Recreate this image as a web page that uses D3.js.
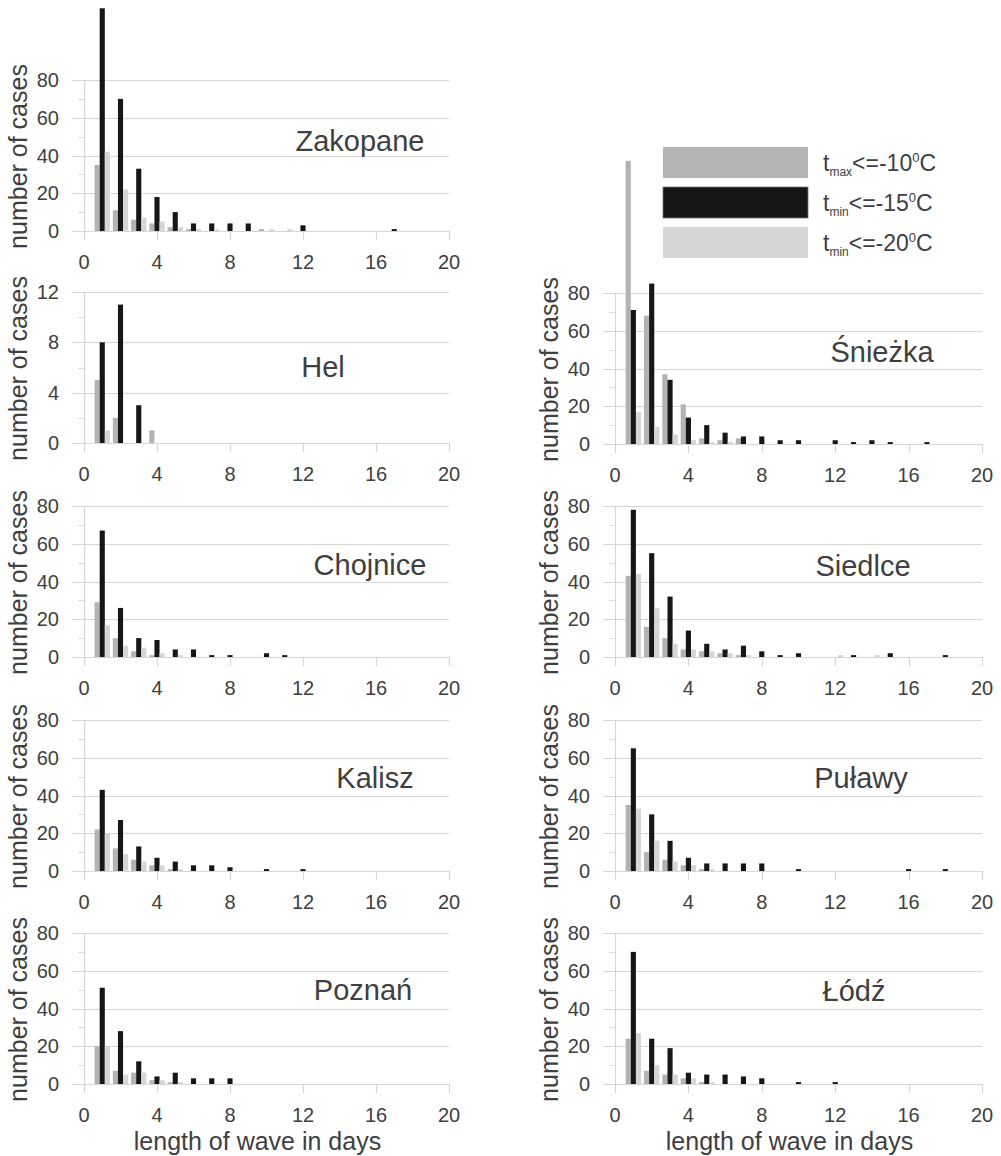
<!DOCTYPE html>
<html><head><meta charset="utf-8">
<script src="https://cdn.jsdelivr.net/npm/d3@7/dist/d3.min.js"></script>
<style>body{margin:0;background:#fff}text{font-family:"Liberation Sans",Arial,sans-serif;fill:#404040}</style>
</head><body><svg id="c" width="1001" height="1156"></svg>
<script>
// ---------- data ----------
const days = [1,2,3,4,5,6,7,8,9,10,11,12,13,14,15,16,17,18,19,20];
const seriesLabels = [["t","max","<=-10","0","C"],["t","min","<=-15","0","C"],["t","min","<=-20","0","C"]];
const xTicks = [0,4,8,12,16,20];
const yTicksCases = [0,20,40,60,80];
const yTicksHel = [0,4,8,12];
const yTitle = "number of cases";
const xTitle = "length of wave in days";

const zakopaneTmax10 = [35,11,6,4,2,1,0,0,0,1,0,0,0,0,0,0,0,0,0,0];
const zakopaneTmin15 = [118,70,33,18,10,4,4,4,4,0,0,3,0,0,0,0,1,0,0,0];
const zakopaneTmin20 = [42,22,7,5,2,1,1,0,0,1,1,0,0,0,0,0,0,0,0,0];

const helTmax10 = [5,2,0,1,0,0,0,0,0,0,0,0,0,0,0,0,0,0,0,0];
const helTmin15 = [8,11,3,0,0,0,0,0,0,0,0,0,0,0,0,0,0,0,0,0];
const helTmin20 = [1,0,0,0,0,0,0,0,0,0,0,0,0,0,0,0,0,0,0,0];

const chojniceTmax10 = [29,10,3,1,0,0,0,0,0,0,0,0,0,0,0,0,0,0,0,0];
const chojniceTmin15 = [67,26,10,9,4,4,1,1,0,2,1,0,0,0,0,0,0,0,0,0];
const chojniceTmin20 = [17,6,5,2,1,0,0,0,0,0,0,0,0,0,0,0,0,0,0,0];

const kaliszTmax10 = [22,12,6,3,1,0,0,0,0,0,0,0,0,0,0,0,0,0,0,0];
const kaliszTmin15 = [43,27,13,7,5,3,3,2,0,1,0,1,0,0,0,0,0,0,0,0];
const kaliszTmin20 = [20,9,5,3,1,0,0,0,0,0,0,0,0,0,0,0,0,0,0,0];

const poznanTmax10 = [20,7,6,2,1,0,0,0,0,0,0,0,0,0,0,0,0,0,0,0];
const poznanTmin15 = [51,28,12,4,6,3,3,3,0,0,0,0,0,0,0,0,0,0,0,0];
const poznanTmin20 = [20,5,6,2,1,0,0,0,0,0,0,0,0,0,0,0,0,0,0,0];

const sniezkaTmax10 = [150,68,37,21,3,2,3,0,0,0,0,0,0,0,0,0,0,0,0,0];
const sniezkaTmin15 = [71,85,34,14,10,6,4,4,2,2,0,2,1,2,1,0,1,0,0,0];
const sniezkaTmin20 = [17,9,5,2,1,1,0,0,0,0,0,0,0,0,0,0,0,0,0,0];

const siedlceTmax10 = [43,16,10,4,3,2,1,0,0,0,0,0,0,0,0,0,0,0,0,0];
const siedlceTmin15 = [78,55,32,14,7,4,6,3,1,2,0,0,1,0,2,0,0,1,0,0];
const siedlceTmin20 = [44,26,7,4,3,2,1,0,0,0,0,1,0,1,0,0,0,0,0,0];

const pulawyTmax10 = [35,10,6,3,1,0,0,0,0,0,0,0,0,0,0,0,0,0,0,0];
const pulawyTmin15 = [65,30,16,7,4,4,4,4,0,1,0,0,0,0,0,1,0,1,0,0];
const pulawyTmin20 = [33,16,5,3,1,0,0,0,0,0,0,0,0,0,0,0,0,0,0,0];

const lodzTmax10 = [24,7,5,3,1,0,0,0,0,0,0,0,0,0,0,0,0,0,0,0];
const lodzTmin15 = [70,24,19,6,5,5,4,3,0,1,0,1,0,0,0,0,0,0,0,0];
const lodzTmin20 = [27,10,5,3,1,0,0,0,0,0,0,0,0,0,0,0,0,0,0,0];

// ---------- layout ----------
const colors = ["#b3b3b3","#161616","#d6d6d6"];
const L = [84,449], R = [615,982];
const panels = [
  {name:"Zakopane", s:[zakopaneTmax10,zakopaneTmin15,zakopaneTmin20], yMax:80, ticks:yTicksCases, xr:L, y0:231, lab:[360,141], title:false},
  {name:"Hel", s:[helTmax10,helTmin15,helTmin20], yMax:12, ticks:yTicksHel, xr:L, y0:443, lab:[323,367], title:false},
  {name:"Chojnice", s:[chojniceTmax10,chojniceTmin15,chojniceTmin20], yMax:80, ticks:yTicksCases, xr:L, y0:657, lab:[370,565], title:false},
  {name:"Kalisz", s:[kaliszTmax10,kaliszTmin15,kaliszTmin20], yMax:80, ticks:yTicksCases, xr:L, y0:871, lab:[375,778], title:false},
  {name:"Poznań", s:[poznanTmax10,poznanTmin15,poznanTmin20], yMax:80, ticks:yTicksCases, xr:L, y0:1084, lab:[363,990], title:true},
  {name:"Śnieżka", s:[sniezkaTmax10,sniezkaTmin15,sniezkaTmin20], yMax:80, ticks:yTicksCases, xr:R, y0:444, lab:[882,352], title:false},
  {name:"Siedlce", s:[siedlceTmax10,siedlceTmin15,siedlceTmin20], yMax:80, ticks:yTicksCases, xr:R, y0:657, lab:[863,566], title:false},
  {name:"Puławy", s:[pulawyTmax10,pulawyTmin15,pulawyTmin20], yMax:80, ticks:yTicksCases, xr:R, y0:871, lab:[861,778], title:false},
  {name:"Łódź", s:[lodzTmax10,lodzTmin15,lodzTmin20], yMax:80, ticks:yTicksCases, xr:R, y0:1084, lab:[854,991], title:true}
];
const H = 151;
const svg = d3.select("#c");
svg.append("rect").attr("width",1001).attr("height",1156).attr("fill","#fff");

panels.forEach(p => {
  const x = d3.scaleLinear().domain([0,20]).range(p.xr);
  const y = d3.scaleLinear().domain([0,p.yMax]).range([p.y0, p.y0-H]);
  const g = svg.append("g");
  const step = p.ticks[1]-p.ticks[0];
  g.selectAll("line.grid").data(p.ticks).join("line")
    .attr("x1", p.xr[0]-12).attr("x2", p.xr[1])
    .attr("y1", d=>Math.round(y(d))+0.5).attr("y2", d=>Math.round(y(d))+0.5)
    .attr("stroke","#d6d6d6").attr("stroke-width",1.2);
  const minor = p.ticks.slice(0,-1).map(t=>t+step/2);
  g.selectAll("line.mn").data(minor).join("line")
    .attr("x1", p.xr[0]-6).attr("x2", p.xr[0])
    .attr("y1", d=>Math.round(y(d))+0.5).attr("y2", d=>Math.round(y(d))+0.5)
    .attr("stroke","#dcdcdc");
  g.append("line").attr("x1",p.xr[0]+0.5).attr("x2",p.xr[0]+0.5)
    .attr("y1",y(p.yMax)).attr("y2",p.y0+0.5).attr("stroke","#d6d6d6").attr("stroke-width",1.2);
  g.selectAll("line.xt").data(xTicks).join("line")
    .attr("x1", d=>Math.round(x(d))+0.5).attr("x2", d=>Math.round(x(d))+0.5)
    .attr("y1", p.y0).attr("y2", p.y0+9).attr("stroke","#d6d6d6").attr("stroke-width",1.2);
  const bw = (x(1)-x(0))*0.28;
  p.s.forEach((vals,si) => {
    g.selectAll(null).data(days.map((d,i)=>({d, v:vals[i]})).filter(o=>o.v>0)).join("rect")
      .attr("x", o => x(o.d) - bw*1.5 + si*bw)
      .attr("width", bw)
      .attr("y", o => y(o.v))
      .attr("height", o => p.y0 - y(o.v))
      .attr("fill", colors[si]);
  });
  g.selectAll("text.yt").data(p.ticks).join("text")
    .attr("x", p.xr[0]-25).attr("y", d=>y(d)).attr("dy","0.35em")
    .attr("text-anchor","end").attr("font-size",20).text(d=>d);
  g.selectAll("text.xt").data(xTicks).join("text")
    .attr("x", d=>x(d)).attr("y", p.y0+31).attr("dy","0.35em")
    .attr("text-anchor","middle").attr("font-size",20).text(d=>d);
  g.append("text").attr("transform",`translate(${p.xr[0]-66},${p.y0-H/2+1}) rotate(-90)`)
    .attr("text-anchor","middle").attr("dy","0.35em").attr("font-size",25).text(yTitle);
  g.append("text").attr("x",p.lab[0]).attr("y",p.lab[1]).attr("dy","0.35em")
    .attr("text-anchor","middle").attr("font-size",29).text(p.name);
  if (p.title) {
    g.append("text").attr("x",(p.xr[0]+p.xr[1])/2-9).attr("y",1141).attr("dy","0.35em")
      .attr("text-anchor","middle").attr("font-size",25).text(xTitle);
  }
});

// legend
const lg = svg.append("g");
const ly = [147,187,227];
seriesLabels.forEach((lab,i) => {
  lg.append("rect").attr("x",663).attr("y",ly[i]).attr("width",145).attr("height",31)
    .attr("fill",colors[i]).attr("stroke", i===1 ? "#777" : "none").attr("stroke-width",0.8);
  const t = lg.append("text").attr("x",823).attr("y",ly[i]+24).attr("font-size",23);
  t.append("tspan").text(lab[0]);
  t.append("tspan").attr("dy",5).attr("font-size",12).text(lab[1]);
  t.append("tspan").attr("dy",-5).text(lab[2]);
  t.append("tspan").attr("dy",-9).attr("font-size",13).text(lab[3]);
  t.append("tspan").attr("dy",9).text(lab[4]);
});
</script></body></html>
